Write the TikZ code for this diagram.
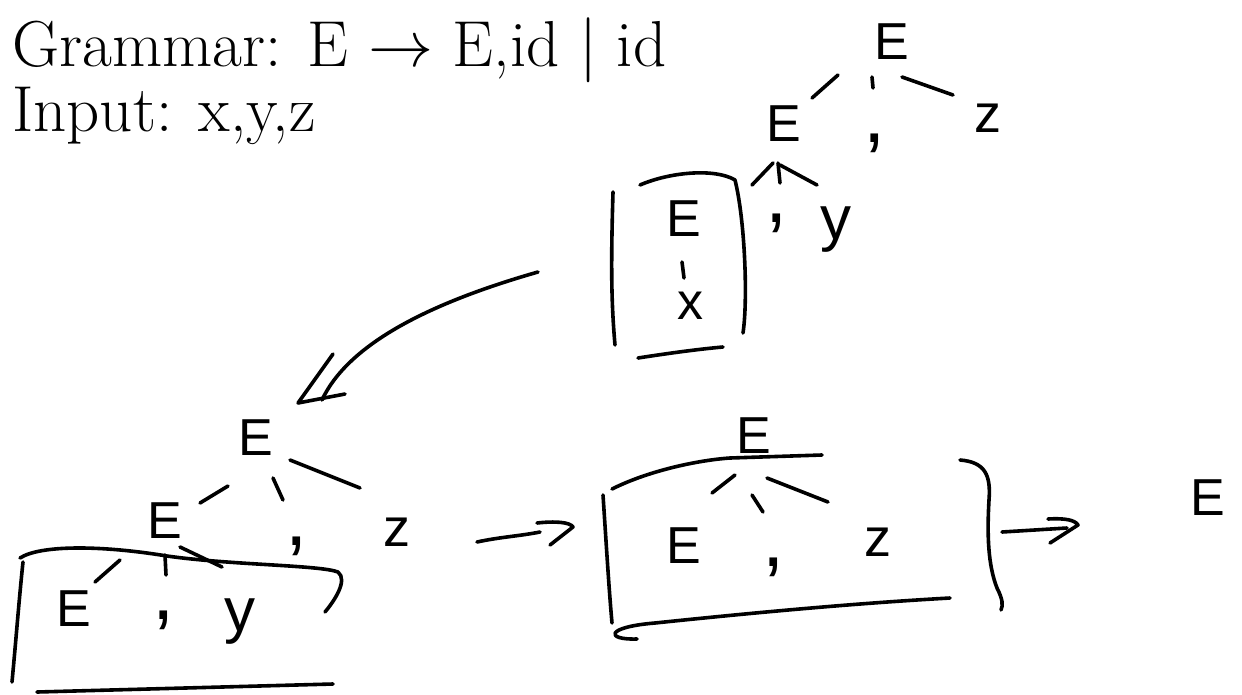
\documentclass[tikz,border=0pt]{standalone}
\DeclareFontShape{OMS}{cmsy}{m}{n}{<->cmsy10}{}
\DeclareFontShape{OML}{cmm}{m}{it}{<->cmmi10}{}
\usepackage{fontspec}
\newfontfamily\handfont{Liberation Sans}
\usetikzlibrary{calc}
\tikzset{
  stroke/.style={line width=3.6pt, line cap=round, line join=round},
  hand/.style={font=\handfont\fontsize{52}{52}\selectfont, inner sep=0pt},
  handz/.style={font=\handfont\fontsize{54}{54}\selectfont, inner sep=0pt},
  handy/.style={font=\handfont\fontsize{62}{62}\selectfont, inner sep=0pt},
  handc/.style={font=\handfont\fontsize{80}{80}\selectfont, inner sep=0pt},
  headtext/.style={font=\fontsize{65}{70}\selectfont, anchor=base west, inner sep=0pt},
}
\begin{document}
\begin{tikzpicture}[x=1pt,y=-1pt]
\useasboundingbox (0,0) rectangle (1242,694);

% header
\node[headtext] (g) at (12,66) {Grammar: E $\rightarrow$ E,id $|$ id};
\node[headtext] (inp) at (12,131) {Input: x,y,z};

% ---------- top tree ----------
\node[hand]  (T0) at (892,42) {E};
\node[hand]  (T1) at (784,124) {E};
\node[handc] (T2) at (875,143) {,};
\node[handz] (T3) at (988,118) {z};
\node[hand]  (T4) at (684,219) {E};
\node[handc] (T5) at (777,223) {,};
\node[handy] (T6) at (836,230) {y};
\node[hand]  (T7) at (690,306) {x};

\draw[stroke] ($(T0)+(-54,33)$) -- ($(T1)+(28,-26)$);
\draw[stroke] ($(T0)+(-20,35)$) -- ($(T2)+(-2,-55)$);
\draw[stroke] ($(T0)+(10,35)$) -- ($(T3)+(-35,-23)$);
\draw[stroke] ($(T1)+(-11,39)$) -- ($(T4)+(68,-34)$);
\draw[stroke] ($(T1)+(-6,39)$) -- ($(T5)+(3,-40)$);
\draw[stroke] ($(T1)+(-4,41)$) -- ($(T6)+(-19,-45)$);
\draw[stroke] ($(T4)+(-2,43)$) -- ($(T7)+(-6,-28)$);

% box around E - x
\draw[stroke] (613,192) .. controls (611,260) and (611,300) .. (615,345);
\draw[stroke] (640,185) .. controls (670,172) and (715,168) .. (735,180)
              .. controls (745,220) and (748,300) .. (743,333);
\draw[stroke] (638,358) .. controls (670,353) and (700,349) .. (723,347);

% curved double arrow
\coordinate (a1s) at (538,272);
\coordinate (a1e) at (322,400);
\draw[stroke] (a1s) .. controls (440,300) and (350,340) .. (a1e);
\draw[stroke] (333,354) -- (298,403) -- (345,394);

% ---------- lower-left tree ----------
\node[hand]  (L0) at (256,438) {E};
\node[hand]  (L1) at (165,521) {E};
\node[handc] (L2) at (297,546) {,};
\node[handz] (L3) at (397,532) {z};
\node[hand]  (L4) at (74,609) {E};
\node[handc] (L5) at (164,620) {,};
\node[handy] (L6) at (240,622) {y};

\draw[stroke] ($(L0)+(-28,48)$) -- ($(L1)+(35,-18)$);
\draw[stroke] ($(L0)+(17,40)$) -- ($(L2)+(-14,-46)$);
\draw[stroke] ($(L0)+(34,22)$) -- ($(L3)+(-37,-44)$);
\draw[stroke] ($(L1)+(-45,39)$) -- ($(L4)+(21,-27)$);
\draw[stroke] ($(L1)+(0,34)$) -- ($(L5)+(2,-45)$);
\draw[stroke] ($(L1)+(15,26)$) -- ($(L6)+(-18,-55)$);

% box around E , y
\draw[stroke] (20,558) .. controls (40,545) and (100,545) .. (167,556)
              .. controls (230,565) and (320,565) .. (338,572)
              .. controls (348,580) and (335,600) .. (325,612);
\draw[stroke] (23,562) .. controls (19,600) and (16,640) .. (12,682);
\draw[stroke] (37,692) -- (333,684);

% arrow to middle
\coordinate (a2s) at (477,542);
\coordinate (a2e) at (540,532);
\draw[stroke] (a2s) .. controls (500,537) and (520,536) .. (a2e);
\draw[stroke] (537,523) .. controls (555,521) and (570,522) .. (573,527) -- (550,545);

% ---------- middle tree ----------
\node[hand]  (M0) at (754,436) {E};
\node[hand]  (M1) at (684,546) {E};
\node[handc] (M2) at (774,567) {,};
\node[handz] (M3) at (878,542) {z};

\draw[stroke] ($(M0)+(-19,39)$) -- ($(M1)+(28,-53)$);
\draw[stroke] ($(M0)+(-2,59)$) -- ($(M2)+(-11,-55)$);
\draw[stroke] ($(M0)+(13,42)$) -- ($(M3)+(-50,-40)$);

% box around E , z
\draw[stroke] (612,489) .. controls (650,470) and (700,460) .. (730,458) -- (822,455);
\draw[stroke] (603,495) .. controls (606,540) and (609,590) .. (612,623);
\draw[stroke] (637,639) .. controls (605,640) and (605,627) .. (655,623)
              .. controls (760,612) and (860,603) .. (950,598);
% bracket
\draw[stroke] (960,460) .. controls (985,462) and (991,475) .. (989,500)
              .. controls (987,535) and (988,565) .. (997,588)
              .. controls (1003,600) and (1003,605) .. (1001,610);

% arrow to result
\coordinate (a3s) at (1002,532);
\coordinate (a3e) at (1067,528);
\draw[stroke] (a3s) -- (a3e);
\draw[stroke] (1048,519) .. controls (1065,518) and (1075,520) .. (1078,525) -- (1050,543);

% result
\node[hand] (R) at (1208,498) {E};
\end{tikzpicture}
\end{document}
